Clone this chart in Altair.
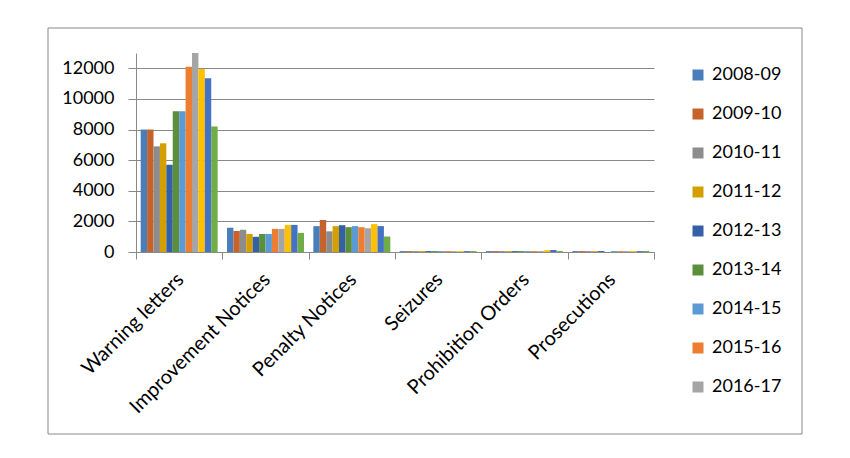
import pandas as pd
import altair as alt

# ------------------------------------------------------------
# Data
# ------------------------------------------------------------

categories = [
    "Warning letters",
    "Improvement Notices",
    "Penalty Notices",
    "Seizures",
    "Prohibition Orders",
    "Prosecutions",
]

years = [
    "2008-09", "2009-10", "2010-11", "2011-12", "2012-13", "2013-14",
    "2014-15", "2015-16", "2016-17", "2017-18", "2018-19", "2019-20",
]

colors = [
    "#4A7EBB", "#C5632B", "#8C8C8C", "#D4A000", "#3560A6", "#5B8F3B",
    "#5B9BD5", "#ED7D31", "#A5A5A5", "#FFC000", "#4472C4", "#70AD47",
]

warning_letters = [8000, 8000, 6900, 7100, 5700, 9200, 9200, 12100, 13000, 11950, 11350, 8200]
improvement_notices = [1580, 1380, 1450, 1180, 990, 1180, 1180, 1510, 1510, 1770, 1770, 1250]
penalty_notices = [1690, 2090, 1350, 1690, 1750, 1620, 1690, 1620, 1550, 1820, 1690, 1010]
seizures = [60, 60, 60, 60, 60, 60, 60, 60, 60, 60, 60, 60]
prohibition_orders = [60, 60, 60, 60, 60, 60, 60, 60, 60, 120, 130, 60]
prosecutions = [60, 60, 60, 60, 60, 0, 60, 60, 60, 60, 60, 60]

series = [
    warning_letters,
    improvement_notices,
    penalty_notices,
    seizures,
    prohibition_orders,
    prosecutions,
]

rows = []
for cat, vals in zip(categories, series):
    for yr, v in zip(years, vals):
        rows.append({"category": cat, "year": yr, "value": v})
df = pd.DataFrame(rows)

FONT = "Lato"
GRID = "#898989"

# ------------------------------------------------------------
# Bars
# ------------------------------------------------------------

bars = (
    alt.Chart(df)
      .mark_bar()
      .encode(
          x=alt.X(
              "category:N",
              sort=categories,
              title=None,
              scale=alt.Scale(paddingInner=0, paddingOuter=0),
              axis=alt.Axis(
                  labelAngle=-45,
                  labelFontSize=20,
                  labelFont=FONT,
                  labelColor="#000000",
                  labelPadding=10,
                  labelOffset=-6,
                  labelLimit=400,
                  tickBand="extent",
                  tickSize=7,
                  tickColor=GRID,
                  domainColor=GRID,
                  grid=False,
              ),
          ),
          xOffset=alt.XOffset(
              "year:N",
              sort=years,
              scale=alt.Scale(paddingInner=0, paddingOuter=0.73),
          ),
          y=alt.Y(
              "value:Q",
              title=None,
              scale=alt.Scale(domain=[0, 13000], nice=False),
              axis=alt.Axis(
                  values=[0, 2000, 4000, 6000, 8000, 10000, 12000],
                  format="d",
                  labelFontSize=18,
                  labelFont=FONT,
                  labelColor="#000000",
                  labelPadding=14,
                  tickSize=8,
                  tickColor=GRID,
                  domainColor=GRID,
                  gridColor=GRID,
                  gridOpacity=1,
              ),
          ),
          color=alt.Color(
              "year:N",
              sort=years,
              scale=alt.Scale(domain=years, range=colors),
              legend=alt.Legend(
                  title=None,
                  values=years[:9],
                  orient="none",
                  legendX=553,
                  legendY=13,
                  symbolType="square",
                  symbolSize=121,
                  symbolStrokeWidth=0,
                  symbolOpacity=1,
                  labelFontSize=18,
                  labelFont=FONT,
                  labelColor="#000000",
                  labelOffset=5,
                  rowPadding=21,
                  padding=0,
              ),
          ),
      )
)

# outer frame around the whole chart
frame = (
    alt.Chart(pd.DataFrame({"k": [0]}))
      .mark_rect(fill=None, stroke=GRID, strokeWidth=1)
      .encode(
          x=alt.value(-88), x2=alt.value(666),
          y=alt.value(-25), y2=alt.value(381),
      )
)

chart = (
    alt.layer(frame, bars)
      .properties(
          width=518,
          height=199,
          autosize=alt.AutoSizeParams(type="none"),
          padding={"left": 128, "top": 45, "right": 188, "bottom": 198},
          background="#ffffff",
      )
      .configure_view(stroke=None)
)

chart.save("out.html", embed_options={"renderer": "svg", "actions": False})
